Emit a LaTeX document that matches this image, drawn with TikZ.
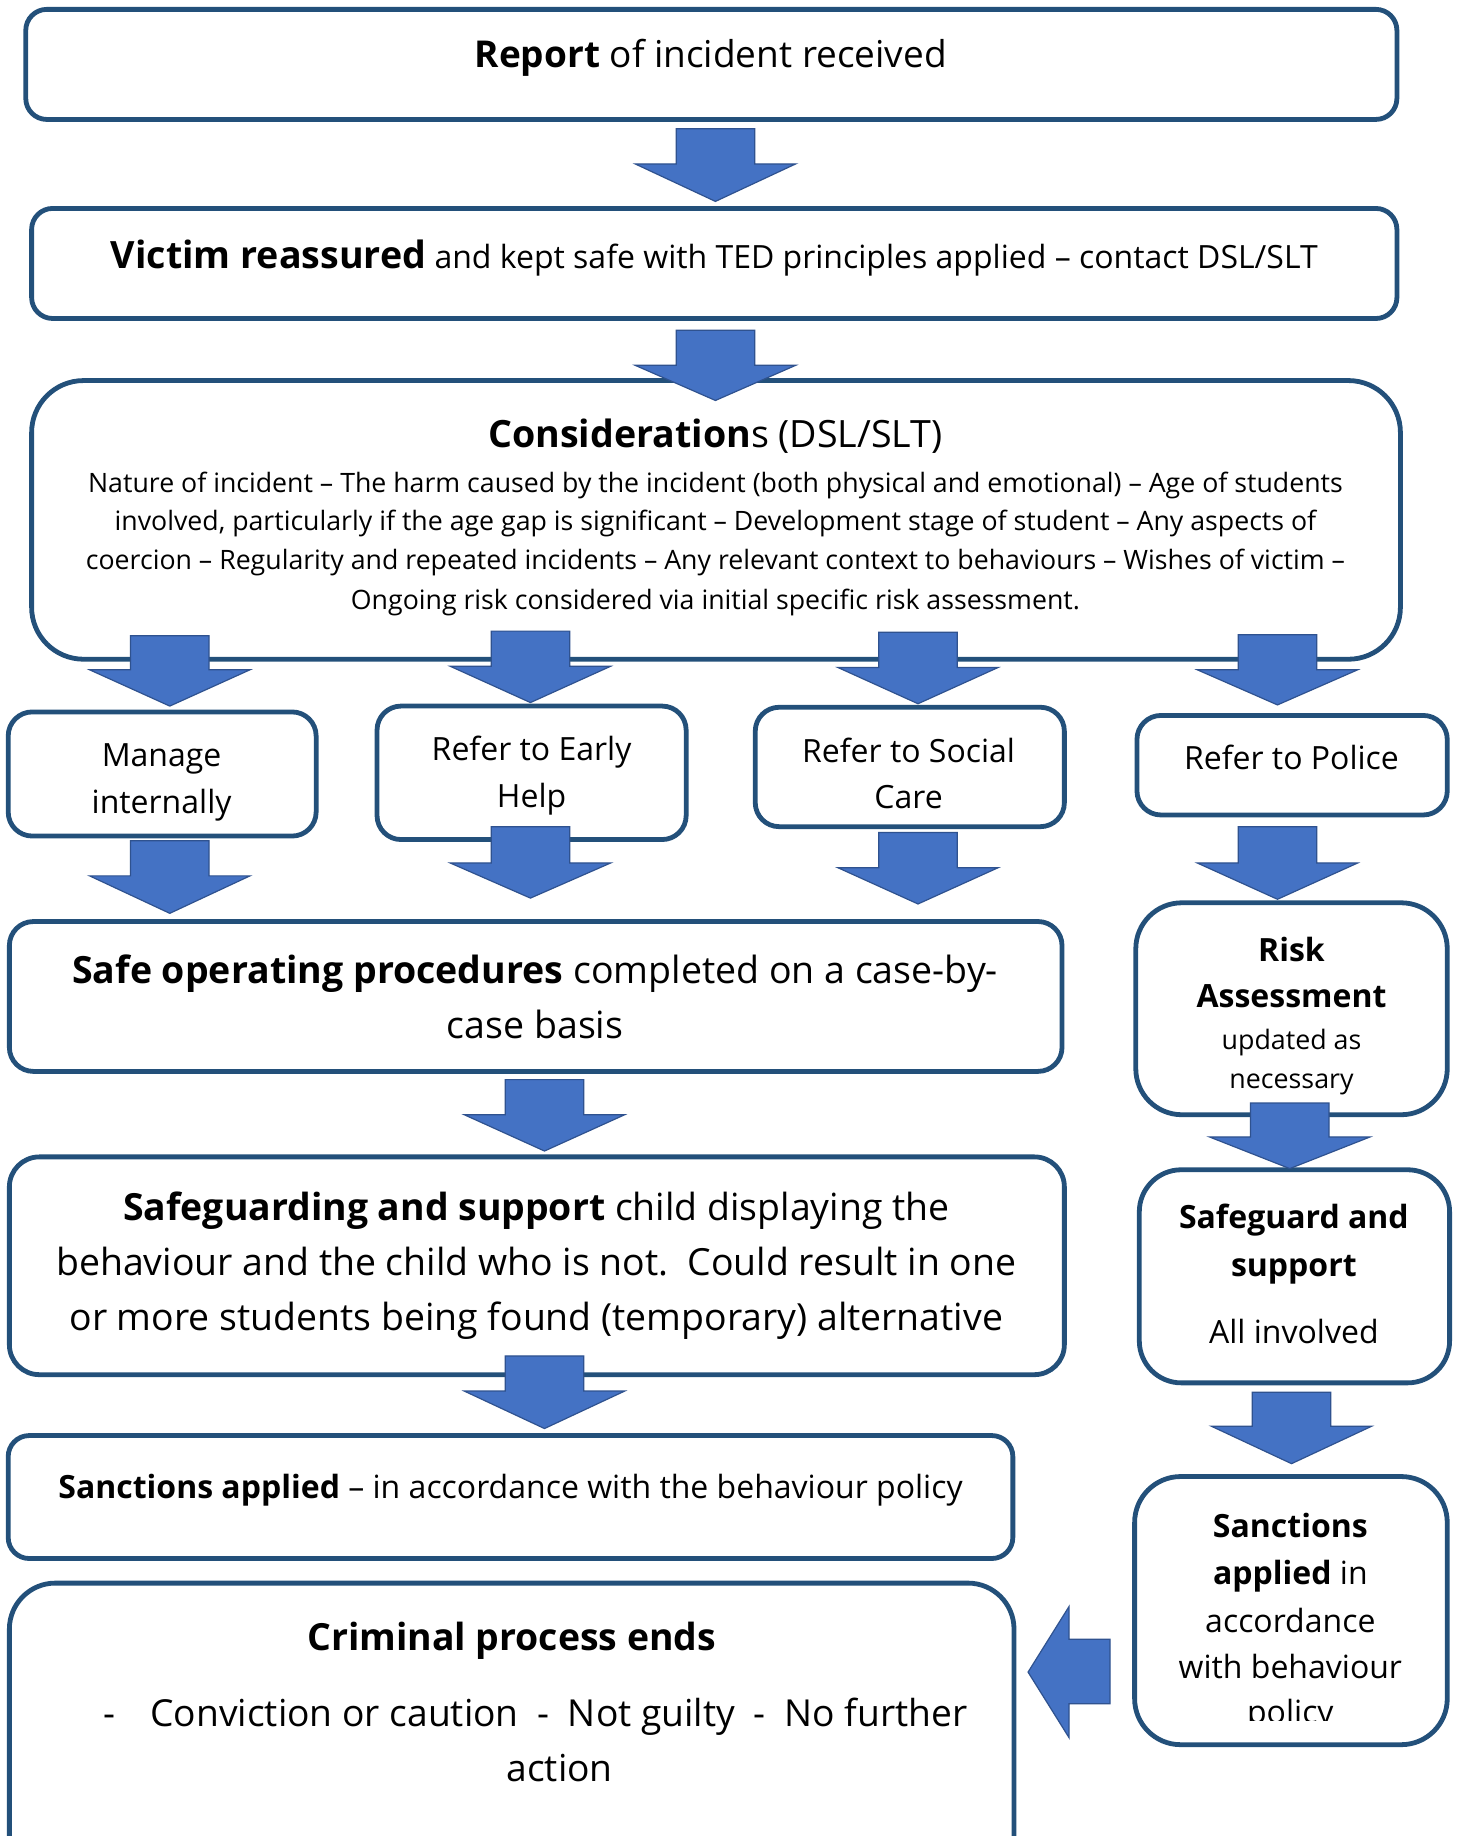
\documentclass[tikz,border=0pt]{standalone}
\usepackage{fontspec}
\setmainfont{Open Sans}
\definecolor{boxblue}{HTML}{23507A}
\definecolor{arrfill}{HTML}{4472C4}
\definecolor{arrline}{HTML}{2F528F}
\newcommand\fs[2]{\fontsize{#1}{#2}\selectfont}
\newcommand\blockdown[4]{%
  \draw[arrowshape] (#1-33.5,#2) -- (#1+33.5,#2) -- (#1+33.5,#3) -- (#1+68.5,#3)
    -- (#1,#4) -- (#1-68.5,#3) -- (#1-33.5,#3) -- cycle;}
\tikzset{
  boxline/.style={draw=boxblue, line width=2.4pt, fill=white},
  arrowshape/.style={draw=arrline, line width=0.6pt, fill=arrfill, line join=miter},
  tl/.style={inner sep=0pt, anchor=base},
}
\begin{document}
\begin{tikzpicture}[x=0.5855pt, y=-0.5855pt]
\useasboundingbox (0,0) rectangle (1246,1568);
\clip (0,0) rectangle (1246,1568);
\fill[white] (0,0) rectangle (1246,1568);

% ---------- boxes ----------
\draw[boxline, rounded corners=10.5pt] (22,8) rectangle (1193,102);
\draw[boxline, rounded corners=10.5pt] (27,178) rectangle (1193,272);
\draw[boxline, rounded corners=26pt] (27,325) rectangle (1196,563);
\draw[boxline, rounded corners=12pt] (7,608) rectangle (270,714);
\draw[boxline, rounded corners=12pt] (322,603) rectangle (586,717);
\draw[boxline, rounded corners=12pt] (645,604) rectangle (909,706);
\draw[boxline, rounded corners=12pt] (971,611) rectangle (1236,696);
\draw[boxline, rounded corners=12pt] (8,787) rectangle (907,915);
\draw[boxline, rounded corners=23pt] (970,771) rectangle (1236,952);
\draw[boxline, rounded corners=15pt] (8,988) rectangle (909,1174);
\draw[boxline, rounded corners=21pt] (973,999) rectangle (1238,1181);
\draw[boxline, rounded corners=10.5pt] (7,1226) rectangle (865,1331);
\draw[boxline, rounded corners=23pt] (969,1261) rectangle (1236,1490);
\draw[boxline, rounded corners=23pt] (8,1352) rectangle (866,1640);

% ---------- texts (anchored at baseline) ----------
\node[tl, font=\fs{18.5}{22}] (t1) at (607,57.4) {\textbf{Report} of incident received};
\node[tl, font=\fs{16}{20}] (t2) at (610,229.5) {{\fs{18.8}{22}\textbf{Victim reassured}} and kept safe with TED principles applied – contact DSL/SLT};
\node[tl, font=\fs{18.8}{22}] (t3) at (611,382.5) {\textbf{Consideration}s (DSL/SLT)};
\node[tl, font=\fs{13.35}{16}] (t3a) at (611,420.2) {Nature of incident – The harm caused by the incident (both physical and emotional) – Age of students};
\node[tl, font=\fs{13.35}{16}] (t3b) at (611,453.2) {involved, particularly if the age gap is significant – Development stage of student – Any aspects of};
\node[tl, font=\fs{13.35}{16}] (t3c) at (611,486.2) {coercion – Regularity and repeated incidents – Any relevant context to behaviours – Wishes of victim –};
\node[tl, font=\fs{13.35}{16}] (t3d) at (611,520.2) {Ongoing risk considered via initial specific risk assessment.};

\node[tl, font=\fs{16}{20}] (m1) at (138,654.8) {Manage};
\node[tl, font=\fs{16}{20}] (m2) at (138,694.8) {internally};
\node[tl, font=\fs{16}{20}] (e1) at (454,649.8) {Refer to Early};
\node[tl, font=\fs{16}{20}] (e2) at (454,689.8) {Help};
\node[tl, font=\fs{16}{20}] (s1) at (776,650.8) {Refer to Social};
\node[tl, font=\fs{16}{20}] (s2) at (776,690.8) {Care};
\node[tl, font=\fs{16}{20}] (p1) at (1103,656.8) {Refer to Police};

\node[tl, font=\fs{18.75}{22}] (o1) at (457,839.5) {\textbf{Safe operating procedures} completed on a case-by-};
\node[tl, font=\fs{18.75}{22}] (o2) at (457,886.5) {case basis};

\node[tl, font=\fs{16}{20}] (r1) at (1103,820.8) {\textbf{Risk}};
\node[tl, font=\fs{16}{20}] (r2) at (1103,860.8) {\textbf{Assessment}};
\node[tl, font=\fs{13.4}{16}] (r3) at (1103,896.2) {updated as};
\node[tl, font=\fs{13.4}{16}] (r4) at (1103,929.2) {necessary};

\node[tl, font=\fs{18.7}{22}] (g1) at (458,1042.5) {\textbf{Safeguarding and support} child displaying the};
\node[tl, font=\fs{18.7}{22}] (g2) at (458,1089.5) {behaviour and the child who is not.\ \ Could result in one};
\node[tl, font=\fs{18.7}{22}] (g3) at (458,1136.5) {or more students being found (temporary) alternative};

\node[tl, font=\fs{16}{20}] (a1) at (1105,1048.8) {\textbf{Safeguard and}};
\node[tl, font=\fs{16}{20}] (a2) at (1105,1089.8) {\textbf{support}};
\node[tl, font=\fs{16}{20}] (a3) at (1105,1147.8) {All involved};

\node[tl, font=\fs{16}{20}] (n1) at (436,1279.8) {\textbf{Sanctions applied} – in accordance with the behaviour policy};

\node[tl, font=\fs{16}{20}] (q1) at (1102,1312.8) {\textbf{Sanctions}};
\node[tl, font=\fs{16}{20}] (q2) at (1102,1352.8) {\textbf{applied} in};
\node[tl, font=\fs{16}{20}] (q3) at (1102,1393.8) {accordance};
\node[tl, font=\fs{16}{20}] (q4) at (1102,1433.8) {with behaviour};
\begin{scope}
\clip (960,1300) rectangle (1246,1469);
\node[tl, font=\fs{16}{20}] (q5) at (1102,1471.8) {policy};
\end{scope}

\node[tl, font=\fs{18.7}{22}] (c1) at (437,1409.5) {\textbf{Criminal process ends}};
\node[tl, font=\fs{18.6}{22}] (c2) at (457,1474.5) {-\hspace{0.95em}Conviction or caution\hspace{0.5em}-\hspace{0.5em}Not guilty\hspace{0.5em}-\hspace{0.5em}No further};
\node[tl, font=\fs{18.6}{22}] (c3) at (478,1521.5) {action};

% ---------- block arrows ----------
\blockdown{611}{110}{140}{172}
\blockdown{611}{282}{312}{342}
\blockdown{145}{543}{572}{603}
\blockdown{453}{539}{569}{600}
\blockdown{784}{540}{570}{601}
\blockdown{1091}{542}{572}{602}
\blockdown{145}{718}{748}{780}
\blockdown{453}{706}{737}{767}
\blockdown{784}{711}{741}{772}
\blockdown{1091}{706}{737}{768}
\blockdown{465}{922}{952}{983}
\blockdown{1101.5}{942}{971}{998}
\blockdown{465}{1158}{1188}{1220}
\blockdown{1103}{1189}{1218}{1250}
\draw[arrowshape] (948,1400) -- (948,1455) -- (913,1455) -- (913,1484) -- (878,1428)
  -- (913,1372) -- (913,1400) -- cycle;
\end{tikzpicture}
\end{document}
